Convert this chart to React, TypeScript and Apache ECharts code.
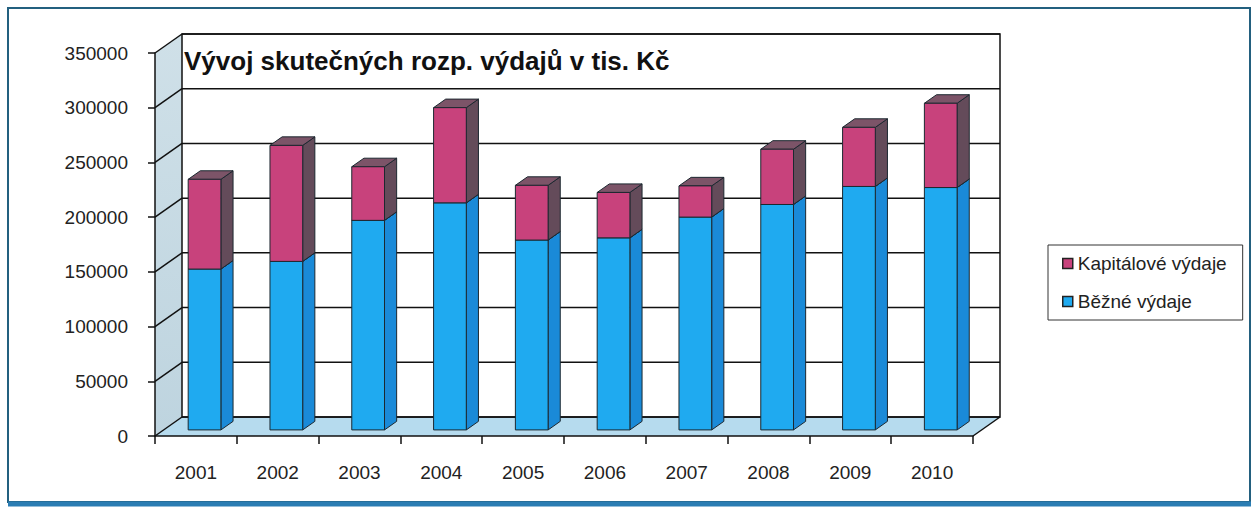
import React, { useEffect, useRef } from "react";
import * as echarts from "echarts";

const years = ["2001", "2002", "2003", "2004", "2005", "2006", "2007", "2008", "2009", "2010"];
const bezneVydaje = [147000, 154000, 191500, 207500, 173500, 175500, 194500, 206000, 222500, 221500];
const kapitaloveVydaje = [82000, 106000, 49000, 87000, 50000, 41500, 28500, 50500, 54000, 77000];
const yTicks = [0, 50000, 100000, 150000, 200000, 250000, 300000, 350000];
const nameKap = "Kapitálové výdaje";
const nameBez = "Běžné výdaje";
const titleText = "Vývoj skutečných rozp. výdajů v tis. Kč";

const DX = 27;
const DY = -19;
const F1 = 0.32;
const F2 = 0.45;
const FONT = "'Liberation Sans', Arial, sans-serif";

function makeBar(front: string, side: string, top: string) {
  return (params: any, api: any) => {
    const idx = api.value(0);
    const base = api.value(1);
    const val = api.value(2);
    const p0 = api.coord([idx, base]);
    const p1 = api.coord([idx, base + val]);
    const bw = api.size([1, 0])[0] * 0.4;
    const ox = DX * F1;
    const oy = DY * F1;
    const dx = DX * F2;
    const dy = DY * F2;
    const x0 = p0[0] - bw / 2 + ox;
    const x1 = x0 + bw;
    const yb = p0[1] + oy;
    const yt = p1[1] + oy;
    const stroke = "#1c2830";
    return {
      type: "group",
      children: [
        {
          type: "polygon",
          shape: { points: [[x1, yb], [x1 + dx, yb + dy], [x1 + dx, yt + dy], [x1, yt]] },
          style: { fill: side, stroke, lineWidth: 1 },
        },
        {
          type: "polygon",
          shape: { points: [[x0, yt], [x0 + dx, yt + dy], [x1 + dx, yt + dy], [x1, yt]] },
          style: { fill: top, stroke, lineWidth: 1 },
        },
        {
          type: "rect",
          shape: { x: x0, y: yt, width: bw, height: yb - yt },
          style: { fill: front, stroke, lineWidth: 1 },
        },
      ],
    };
  };
}

function renderWalls(params: any, api: any) {
  const cs = params.coordSys;
  const L = cs.x;
  const T = cs.y;
  const R = cs.x + cs.width;
  const B = cs.y + cs.height;
  const line = "#111";
  const children: any[] = [
    {
      type: "polygon",
      shape: { points: [[L, T], [L + DX, T + DY], [L + DX, B + DY], [L, B]] },
      style: {
        fill: new echarts.graphic.LinearGradient(0, 0, 0, 1, [
          { offset: 0, color: "#cfe0e8" },
          { offset: 1, color: "#bed4df" },
        ]),
        stroke: "none",
      },
    },
    {
      type: "polygon",
      shape: { points: [[L, B], [L + DX, B + DY], [R + DX, B + DY], [R, B]] },
      style: { fill: "#b6dbee", stroke: "none" },
    },
    {
      type: "rect",
      shape: { x: L + DX, y: T + DY, width: R - L, height: B - T },
      style: { fill: "#ffffff", stroke: line, lineWidth: 1.5 },
    },
  ];
  yTicks.forEach((v) => {
    const y = api.coord([0, v])[1];
    children.push({
      type: "line",
      shape: { x1: L + DX, y1: y + DY, x2: R + DX, y2: y + DY },
      style: { stroke: line, lineWidth: 1.5 },
    });
    children.push({
      type: "line",
      shape: { x1: L, y1: y, x2: L + DX, y2: y + DY },
      style: { stroke: line, lineWidth: 1.5 },
    });
  });
  children.push({
    type: "line",
    shape: { x1: R, y1: B, x2: R + DX, y2: B + DY },
    style: { stroke: line, lineWidth: 1.5 },
  });
  return { type: "group", children };
}

export default function App() {
  const ref = useRef<HTMLDivElement>(null);
  useEffect(() => {
    if (!ref.current) return;
    const chart = echarts.init(ref.current, undefined, { renderer: "svg" });
    const option: any = {
      animation: false,
      backgroundColor: "#ffffff",
      title: {
        text: titleText,
        left: 184,
        top: 48,
        padding: 0,
        textStyle: { fontFamily: FONT, fontSize: 26, fontWeight: "bold", color: "#111" },
        z: 20,
      },
      legend: {
        orient: "vertical",
        left: 1048,
        top: 245,
        padding: [9, 16, 9, 14],
        itemGap: 19,
        itemWidth: 10,
        itemHeight: 10,
        icon: "rect",
        borderColor: "#333",
        borderWidth: 1,
        data: [nameKap, nameBez],
        itemStyle: { borderColor: "#222", borderWidth: 1.5 },
        textStyle: { fontFamily: FONT, fontSize: 19, color: "#222" },
      },
      grid: { left: 155, top: 53, width: 818, height: 383 },
      xAxis: {
        type: "category",
        data: years,
        axisLine: { show: true, lineStyle: { color: "#111", width: 1.5 } },
        axisTick: { show: true, length: 8, lineStyle: { color: "#111", width: 1.5 } },
        axisLabel: { fontFamily: FONT, fontSize: 19, color: "#222", margin: 27 },
        splitLine: { show: false },
        z: 10,
      },
      yAxis: {
        type: "value",
        min: 0,
        max: 350000,
        interval: 50000,
        axisLine: { show: true, lineStyle: { color: "#111", width: 1.5 } },
        axisTick: { show: true, length: 7, lineStyle: { color: "#111", width: 1.5 } },
        axisLabel: {
          fontFamily: FONT,
          fontSize: 19,
          color: "#222",
          margin: 27,
          formatter: (v: number) => String(v),
        },
        splitLine: { show: false },
        z: 10,
      },
      graphic: [
        {
          type: "rect",
          shape: { x: 8, y: 8, width: 1242, height: 494 },
          style: { fill: "none", stroke: "#23607f", lineWidth: 2 },
          z: 100,
        },
        {
          type: "line",
          shape: { x1: 8, y1: 504, x2: 1251, y2: 504 },
          style: { stroke: "#2b7db3", lineWidth: 5 },
          z: 100,
        },
      ],
      series: [
        {
          type: "custom",
          name: "walls",
          data: [[0, 0]],
          renderItem: renderWalls,
          silent: true,
          z: 1,
        },
        {
          type: "custom",
          name: nameBez,
          data: years.map((_, i) => [i, 0, bezneVydaje[i]]),
          encode: { x: 0, y: [1, 2] },
          renderItem: makeBar("#1faaf0", "#1a8ad8", "#1a98e0"),
          itemStyle: { color: "#1faaf0" },
          z: 3,
        },
        {
          type: "custom",
          name: nameKap,
          data: years.map((_, i) => [i, bezneVydaje[i], kapitaloveVydaje[i]]),
          encode: { x: 0, y: [1, 2] },
          renderItem: makeBar("#c8427c", "#644b5a", "#7c5468"),
          itemStyle: { color: "#c8427c" },
          z: 4,
        },
      ],
    };
    chart.setOption(option);
    return () => chart.dispose();
  }, []);
  return (
    <div
      ref={ref}
      style={{ position: "absolute", left: 0, top: 0, width: 1254, height: 508, background: "#fff" }}
    />
  );
}
